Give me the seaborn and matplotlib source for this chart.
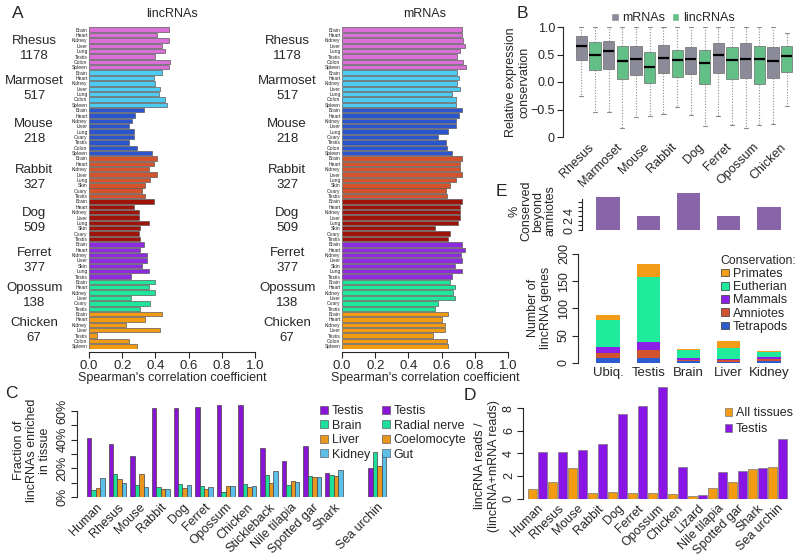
import numpy as np
import pandas as pd
import matplotlib
matplotlib.use("Agg")
import matplotlib.pyplot as plt
import seaborn as sns
from matplotlib.patches import Patch
from matplotlib.transforms import blended_transform_factory

# ---------------- data ----------------
# A: per-tissue Spearman correlation, grouped by species
a_species = ["Rhesus", "Marmoset", "Mouse", "Rabbit", "Dog", "Ferret", "Opossum", "Chicken"]
a_counts = [1178, 517, 218, 327, 509, 377, 138, 67]
a_group_sizes = [8, 7, 9, 8, 8, 7, 6, 7]
a_tissues = ["Brain", "Heart", "Kidney", "Liver", "Lung", "Testis", "Colon", "Spleen",
             "Brain", "Heart", "Kidney", "Liver", "Lung", "Colon", "Spleen",
             "Brain", "Heart", "Kidney", "Liver", "Lung", "Ovary", "Testis", "Colon", "Spleen",
             "Brain", "Heart", "Kidney", "Liver", "Lung", "Skin", "Ovary", "Testis",
             "Brain", "Heart", "Kidney", "Liver", "Lung", "Skin", "Ovary", "Testis",
             "Brain", "Heart", "Kidney", "Liver", "Skin", "Lung", "Testis",
             "Brain", "Heart", "Kidney", "Liver", "Ovary", "Testis",
             "Brain", "Heart", "Kidney", "Liver", "Testis", "Colon", "Spleen"]
a_linc = [0.48, 0.41, 0.48, 0.44, 0.46, 0.40, 0.49, 0.48,
          0.44, 0.39, 0.40, 0.43, 0.42, 0.46, 0.47,
          0.33, 0.28, 0.26, 0.24, 0.27, 0.27, 0.24, 0.29, 0.38,
          0.41, 0.39, 0.36, 0.41, 0.37, 0.34, 0.32, 0.34,
          0.39, 0.27, 0.30, 0.30, 0.36, 0.31, 0.30, 0.31,
          0.33, 0.31, 0.35, 0.35, 0.32, 0.36, 0.25,
          0.40, 0.36, 0.40, 0.25, 0.37, 0.31,
          0.44, 0.34, 0.22, 0.43, 0.05, 0.24, 0.29]
a_mrna = [0.725, 0.725, 0.73, 0.74, 0.71, 0.69, 0.73, 0.745,
          0.69, 0.705, 0.695, 0.71, 0.665, 0.685, 0.685,
          0.72, 0.705, 0.685, 0.685, 0.64, 0.58, 0.625, 0.63, 0.665,
          0.72, 0.71, 0.71, 0.72, 0.685, 0.65, 0.625, 0.63,
          0.72, 0.71, 0.71, 0.71, 0.70, 0.56, 0.65, 0.64,
          0.72, 0.74, 0.715, 0.72, 0.68, 0.72, 0.665,
          0.65, 0.68, 0.67, 0.68, 0.58, 0.56,
          0.64, 0.60, 0.62, 0.62, 0.55, 0.63, 0.64]
a_colors = ["#DA6FD8", "#4DCBF0", "#2A55CF", "#D4532D", "#A01308", "#8E2BE0", "#1FE69A", "#F29A12"]

# B: relative expression conservation (box statistics)
b_species = a_species
b_mrna_q1 = [0.40, 0.23, 0.13, 0.16, 0.14, 0.17, 0.08, 0.07]
b_mrna_med = [0.65, 0.57, 0.41, 0.43, 0.42, 0.50, 0.42, 0.38]
b_mrna_q3 = [0.83, 0.75, 0.65, 0.67, 0.64, 0.71, 0.71, 0.63]
b_mrna_lo = [-0.25, -0.54, -0.64, -0.58, -0.60, -0.62, -0.84, -0.77]
b_mrna_hi = [1.0, 1.0, 1.0, 1.0, 1.0, 1.0, 1.0, 1.0]
b_linc_q1 = [0.21, 0.05, -0.01, 0.10, -0.04, 0.05, -0.04, 0.18]
b_linc_med = [0.50, 0.39, 0.28, 0.40, 0.34, 0.40, 0.41, 0.48]
b_linc_q3 = [0.72, 0.66, 0.55, 0.59, 0.59, 0.63, 0.65, 0.65]
b_linc_lo = [-0.54, -0.84, -0.61, -0.46, -0.80, -0.78, -0.78, -0.43]
b_linc_hi = [1.0, 1.0, 1.0, 1.0, 1.0, 1.0, 1.0, 0.90]

# C: fraction of lincRNAs enriched in tissue (%)
c_species = ["Human", "Rhesus", "Mouse", "Rabbit", "Dog", "Ferret", "Opossum", "Chicken",
             "Stickleback", "Nile tilapia", "Spotted gar", "Shark", "Sea urchin"]
c_testis = [41, 37, 29, 62.5, 62.5, 63, 64.6, 64, 34, 25, 35.6, 16.9, 20]
c_brain = [5, 16.4, 8.7, 6.8, 9.4, 7.7, 3.5, 9.1, 15.7, 8.4, 14.8, 15.7, 31.6]
c_liver = [6.3, 12.4, 16, 5.4, 6, 5.4, 7.7, 7, 10, 11.5, 14.1, 15, 22]
c_kidney = [13, 9.8, 6.8, 5.4, 8.4, 7, 7.7, 7.7, 18.3, 10.5, 14.3, 19.2, 30]
c_labels_vert = ["Testis", "Brain", "Liver", "Kidney"]
c_labels_urchin = ["Testis", "Radial nerve", "Coelomocyte", "Gut"]
c_colors = ["#8A14D6", "#1EDE9C", "#E8961E", "#5AC0EA"]

# D: lincRNA read fraction
d_species = ["Human", "Rhesus", "Mouse", "Rabbit", "Dog", "Ferret", "Opossum", "Chicken",
             "Lizard", "Nile tilapia", "Spotted gar", "Shark", "Sea urchin"]
d_all = [0.86, 1.47, 2.68, 0.5, 0.59, 0.5, 0.5, 0.44, 0.24, 0.97, 1.5, 2.6, 2.8]
d_testis = [4.12, 4.1, 4.3, 4.83, 7.48, 8.18, 9.85, 2.8, 0.33, 2.36, 2.45, 2.68, 5.25]
d_colors = ["#F39C12", "#8A14E6"]

# E: conservation of tissue-specific lincRNAs
e_groups = ["Ubiq.", "Testis", "Brain", "Liver", "Kidney"]
e_beyond = [7.1, 3.1, 7.9, 3.1, 4.9]
e_tetrapods = [9, 8, 3, 1, 3]
e_amniotes = [9, 15, 2, 4, 3]
e_mammals = [10, 15, 3, 1, 4]
e_eutherian = [51, 119, 16, 21, 10]
e_primates = [8, 25, 2, 13, 2]
e_levels = ["Primates", "Eutherian", "Mammals", "Amniotes", "Tetrapods"]
e_colors = ["#F39C1A", "#20EA9C", "#8B1FE8", "#D2522E", "#2D5BD0"]

# ---------------- figure ----------------
sns.set_style("ticks")
plt.rcParams["font.family"] = ["Liberation Sans", "DejaVu Sans"]
plt.rcParams["axes.linewidth"] = 0.8
plt.rcParams["xtick.major.width"] = 0.8
plt.rcParams["ytick.major.width"] = 0.8

W, H = 800, 557
fig = plt.figure(figsize=(8, 5.57), dpi=100)


def box(x0, y0, x1, y1):
    return [x0 / W, 1 - y1 / H, (x1 - x0) / W, (y1 - y0) / H]


def vertical_yticks(ax):
    # R-style tick labels that run parallel to the axis
    ax.tick_params(axis="y", labelrotation=90)
    for t in ax.get_yticklabels():
        t.set_va("center")


FS = 9

# ---- A ----
df_a = pd.DataFrame({
    "species": np.repeat(a_species, a_group_sizes),
    "tissue": a_tissues,
    "key": [str(i) for i in range(len(a_tissues))],
    "linc": a_linc,
    "mrna": a_mrna,
})
starts = np.cumsum([0] + a_group_sizes[:-1])
for col, x0, title in [("linc", 89, "lincRNAs"), ("mrna", 342, "mRNAs")]:
    ax = fig.add_axes(box(x0, 27, x0 + 166, 349))
    sns.barplot(data=df_a, x=col, y="key", hue="species", order=df_a["key"],
                hue_order=a_species, palette=a_colors, dodge=False, legend=False,
                width=0.82, edgecolor="#5a5a5a", linewidth=0.5, orient="h",
                saturation=1, ax=ax)
    sns.despine(ax=ax, left=True)
    ax.spines["bottom"].set_position(("outward", 2))
    ax.set_xlim(0, 1)
    ax.set_xticks(np.arange(0, 1.01, 0.2))
    ax.set_xticklabels([f"{v:.1f}" for v in np.arange(0, 1.01, 0.2)], fontsize=9.5)
    ax.set_yticks(range(len(a_tissues)))
    ax.set_yticklabels(a_tissues, fontsize=3.6)
    ax.tick_params(axis="y", length=0, pad=1)
    ax.tick_params(axis="x", length=4, pad=2)
    ax.set_xlabel("Spearman's correlation coefficient", fontsize=FS, labelpad=0)
    ax.set_ylabel("")
    ax.set_title(title, fontsize=9, pad=7)
    trans = blended_transform_factory(ax.transAxes, ax.transData)
    for sp, n, s, k in zip(a_species, a_counts, starts, a_group_sizes):
        ax.text(-0.33, s + (k - 1) / 2, f"{sp}\n{n}", transform=trans,
                ha="center", va="center", fontsize=9.5, linespacing=1.35)

# ---- B ----
ax = fig.add_axes(box(573, 27, 795, 137))
stats = []
for i in range(len(b_species)):
    stats.append(dict(med=b_mrna_med[i], q1=b_mrna_q1[i], q3=b_mrna_q3[i],
                      whislo=b_mrna_lo[i], whishi=b_mrna_hi[i], fliers=[]))
    stats.append(dict(med=b_linc_med[i], q1=b_linc_q1[i], q3=b_linc_q3[i],
                      whislo=b_linc_lo[i], whishi=b_linc_hi[i], fliers=[]))
bp = ax.bxp(stats, positions=range(len(stats)), widths=0.82, patch_artist=True,
            showfliers=False, capwidths=0.3,
            boxprops=dict(edgecolor="#6a6a6a", linewidth=0.5),
            whiskerprops=dict(color="#8a8a8a", linestyle=(0, (1, 1.5)), linewidth=0.8),
            capprops=dict(color="#8a8a8a", linewidth=0.8),
            medianprops=dict(color="black", linewidth=1.6))
for j, patch in enumerate(bp["boxes"]):
    patch.set_facecolor("#8A8A99" if j % 2 == 0 else "#62C087")
sns.despine(ax=ax, bottom=True)
ax.spines["left"].set_position(("outward", 7))
ax.set_xlim(-0.6, len(stats) - 0.4)
ax.set_ylim(-1, 1)
ax.set_yticks([1, 0.5, 0, -0.5, -1])
ax.set_yticklabels(["1.0", "0.5", "0.0", "\u22120.5", "0"], fontsize=9)
ax.set_xticks([2 * i + 0.5 for i in range(len(b_species))])
ax.set_xticklabels(b_species, rotation=45, ha="right", rotation_mode="anchor", fontsize=FS)
ax.tick_params(axis="x", length=0, pad=3)
ax.tick_params(axis="y", length=4, pad=2)
ax.set_ylabel("Relative expression\nconservation", fontsize=FS, labelpad=0)
ax.legend(handles=[Patch(facecolor="#8A8A99", label="mRNAs"),
                   Patch(facecolor="#62C087", label="lincRNAs")],
          loc="lower center", bbox_to_anchor=(0.45, 0.98), ncol=2, frameon=False,
          fontsize=9, handlelength=0.6, handleheight=0.6, handletextpad=0.3,
          columnspacing=0.5, borderaxespad=0)

# ---- C ----
ax = fig.add_axes(box(85, 404, 388, 497))
c_order = c_species[:-1] + [" "] + c_species[-1:]
df_c = pd.DataFrame({
    "species": np.tile(c_species, 4),
    "slot": np.repeat(["s0", "s1", "s2", "s3"], len(c_species)),
    "value": c_testis + c_brain + c_liver + c_kidney,
})
sns.barplot(data=df_c, x="species", y="value", hue="slot", order=c_order,
            hue_order=["s0", "s1", "s2", "s3"], palette=c_colors, width=0.82,
            edgecolor="#444444", linewidth=0.5, legend=False, saturation=1, ax=ax)
sns.despine(ax=ax, bottom=True)
ax.spines["left"].set_position(("outward", 6))
ax.spines["left"].set_bounds(0, 60)
ax.set_xlim(-0.5, len(c_order) - 0.5)
ax.set_ylim(0, 65)
ax.set_yticks(range(0, 61, 10))
ax.set_yticklabels(["0%", "", "20%", "", "40%", "", "60%"], fontsize=FS)
vertical_yticks(ax)
ax.set_xticks(range(len(c_order)))
ax.set_xticklabels(c_order, rotation=45, ha="right", rotation_mode="anchor", fontsize=FS)
ax.tick_params(axis="x", length=0, pad=3)
ax.tick_params(axis="y", length=4, pad=2)
ax.set_xlabel("")
ax.set_ylabel("Fraction of\nlincRNAs enriched\nin tissue", fontsize=FS, labelpad=4,
              linespacing=1.1)
handles = [Patch(facecolor=c, edgecolor="#444444", linewidth=0.4, label=l)
           for c, l in zip(c_colors, c_labels_vert)]
handles += [Patch(facecolor=c, edgecolor="#444444", linewidth=0.4, label=l)
            for c, l in zip(c_colors, c_labels_urchin)]
ax.legend(handles=handles, ncol=2, loc="upper left", bbox_to_anchor=(0.76, 1.04),
          frameon=False, fontsize=FS, handlelength=0.6, handleheight=0.6,
          handletextpad=0.3, labelspacing=0.2, columnspacing=1.0, borderaxespad=0)

# ---- D ----
ax = fig.add_axes(box(527.5, 385.5, 787.5, 498.5))
df_d = pd.DataFrame({
    "species": np.tile(d_species, 2),
    "set": np.repeat(["All tissues", "Testis"], len(d_species)),
    "value": d_all + d_testis,
})
sns.barplot(data=df_d, x="species", y="value", hue="set", order=d_species,
            hue_order=["All tissues", "Testis"], palette=d_colors, width=1.0, gap=0.1,
            edgecolor="#777777", linewidth=0.5, saturation=1, ax=ax)
sns.despine(ax=ax, bottom=True)
ax.spines["left"].set_position(("outward", 3))
ax.spines["left"].set_bounds(0, 8)
ax.set_xlim(-0.5, len(d_species) - 0.5)
ax.set_ylim(0, 10)
ax.set_yticks(range(0, 9, 2))
ax.set_yticklabels([str(v) for v in range(0, 9, 2)], fontsize=FS)
vertical_yticks(ax)
ax.set_xticks(range(len(d_species)))
ax.set_xticklabels(d_species, rotation=45, ha="right", rotation_mode="anchor", fontsize=FS)
ax.tick_params(axis="x", length=0, pad=3)
ax.tick_params(axis="y", length=4, pad=2)
ax.set_xlabel("")
ax.set_ylabel("lincRNA reads /\n(lincRNA+mRNA reads)", fontsize=FS)
ax.yaxis.set_label_coords(-0.105, 0.29)
ax.legend(loc="upper left", bbox_to_anchor=(0.74, 0.85), frameon=False, fontsize=9,
          handlelength=0.6, handleheight=0.6, handletextpad=0.3, labelspacing=0.3,
          borderaxespad=0)

# ---- E top ----
ax = fig.add_axes(box(588, 192, 789, 230))
sns.barplot(x=e_groups, y=e_beyond, color="#8964A8", width=0.58, linewidth=0,
            saturation=1, ax=ax)
sns.despine(ax=ax, bottom=True)
ax.spines["left"].set_position(("outward", 4))
ax.spines["left"].set_bounds(0, 6.6)
ax.set_xlim(-0.5, 4.5)
ax.set_ylim(0, 8.2)
ax.set_yticks(range(0, 7))
ax.set_yticklabels(["0", "", "2", "", "4", "", ""], fontsize=FS)
vertical_yticks(ax)
ax.set_xticks([])
ax.tick_params(axis="y", length=3, pad=2)
ax.set_ylabel("%\nConserved\nbeyond\namniotes", fontsize=FS, labelpad=5, linespacing=1.0)

# ---- E bottom (stacked by over-plotting cumulative totals) ----
ax = fig.add_axes(box(588, 254, 789, 362.7))
stack = np.array([e_tetrapods, e_amniotes, e_mammals, e_eutherian, e_primates])
cum = np.cumsum(stack, axis=0)[::-1]
for level, color, tops in zip(e_levels, e_colors, cum):
    sns.barplot(x=e_groups, y=tops, color=color, width=0.58, linewidth=0,
                saturation=1, ax=ax)
sns.despine(ax=ax, bottom=True)
ax.spines["left"].set_position(("outward", 7))
ax.set_xlim(-0.5, 4.5)
ax.set_ylim(0, 200)
ax.set_yticks(range(0, 201, 50))
ax.set_yticklabels([str(v) for v in range(0, 201, 50)], fontsize=FS)
vertical_yticks(ax)
ax.tick_params(axis="x", length=0, pad=3, labelsize=9.5)
ax.tick_params(axis="y", length=4, pad=2)
ax.set_ylabel("Number of\nlincRNA genes", fontsize=FS, labelpad=4)
leg = ax.legend(handles=[Patch(facecolor=c, edgecolor="#333333", linewidth=0.5, label=l)
                         for c, l in zip(e_colors, e_levels)],
                title="Conservation:", title_fontsize=8.8, loc="upper left",
                bbox_to_anchor=(0.635, 1.04), frameon=False, fontsize=9,
                handlelength=0.7, handleheight=0.6, handletextpad=0.3, labelspacing=0.1,
                borderaxespad=0)
leg._legend_box.align = "left"

# panel letters
for letter, x, y in [("A", 12, 18), ("B", 517, 18), ("C", 5, 398), ("D", 464, 400), ("E", 496, 196)]:
    fig.text(x / W, 1 - y / H, letter, fontsize=12.5, ha="left", va="baseline")

fig.savefig("out.png", dpi=100)
